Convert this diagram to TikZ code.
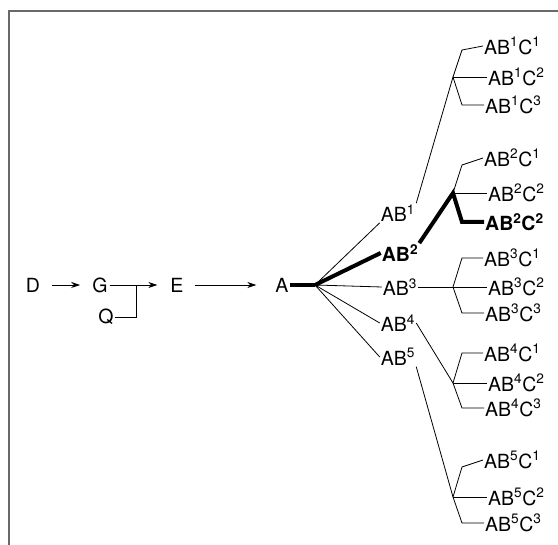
\documentclass[tikz,border=0pt]{standalone}
\usepackage{fontspec}
\setmainfont{TeX Gyre Heros}
\usetikzlibrary{arrows.meta,calc}
\definecolor{marco}{RGB}{105,105,105}
\newcommand{\letra}{\fontsize{19.5}{22}\selectfont}

\begin{document}
\begin{tikzpicture}[x=1pt, y=-1pt,
  etiqueta/.style={font=\letra, inner sep=1pt},
  negrita/.style={font=\letra\bfseries, inner sep=1pt},
  hoja/.style={anchor=west},
  rama/.style={draw=black, line width=0.8pt},
  gruesa/.style={draw=black, line width=4pt},
  flecha/.style={-{Stealth[length=9pt,width=6pt]}, draw=black, line width=0.8pt}
]
\useasboundingbox (0,0) rectangle (558,545);
% Marco
\draw[marco, line width=1.2pt] (9,545) -- (9,11) -- (558,11);
% Cadena
\node[etiqueta] (d) at (33,285) {D};
\node[etiqueta] (g) at (100,285) {G};
\node[etiqueta] (q) at (106,317) {Q};
\node[etiqueta] (e) at (177,285) {E};
\node[etiqueta] (a) at (282,285) {A};
\coordinate (gq) at (136,285);
\coordinate (ja) at (315,285);
\draw[flecha, shorten <=11pt, shorten >=11pt] (d) -- (g);
\draw[flecha, shorten <=1pt, shorten >=12pt] (g) -- (e);
\draw[flecha, shorten <=10pt, shorten >=18pt] (e) -- (a);
\draw[rama] (q.east) -| (gq);
\draw[gruesa] (a.east) -- (ja);
% Segundo nivel
\node[etiqueta] (ab1) at (398,213) {AB\textsuperscript{1}};
\node[negrita] (ab2) at (400,253) {AB\textsuperscript{2}};
\node[etiqueta] (ab3) at (400,287) {AB\textsuperscript{3}};
\node[etiqueta] (ab4) at (398,323) {AB\textsuperscript{4}};
\node[etiqueta] (ab5) at (398,357) {AB\textsuperscript{5}};
\draw[rama] (ja) -- (ab1.south west);
\draw[gruesa] (ja) -- (ab2.west);
\draw[rama] (ja) -- (ab3.west);
\draw[rama] (ja) -- (ab4.west);
\draw[rama] (ja) -- (ab5.west);
% Nudos
\coordinate (j1) at (453,77);
\coordinate (j2) at (453,193);
\coordinate (j3) at (453,287);
\coordinate (j4) at (453,383);
\coordinate (j5) at (453,497);
\draw[rama] (ab1.north east) -- (j1);
\draw[rama] (ab3.east) -- (j3);
\draw[rama] (ab4.east) -- (j4);
\draw[rama] (ab5.south east) -- (j5);
% Tercer nivel
\foreach \n/\ya/\yb/\yc/\dy in {1/46/77/105/4, 3/258/287/313/0,
  4/353/383/408/0, 5/460/497/523/7} {
  \node[etiqueta, hoja] (ab\n c1) at (483,\ya) {AB\textsuperscript{\n}C\textsuperscript{1}};
  \node[etiqueta, hoja] (ab\n c2) at (487,\yb) {AB\textsuperscript{\n}C\textsuperscript{2}};
  \node[etiqueta, hoja] (ab\n c3) at (484,\yc) {AB\textsuperscript{\n}C\textsuperscript{3}};
  \draw[rama] (j\n) -- (462,\ya+\dy) -- (ab\n c1.west);
  \draw[rama] (j\n) -- (ab\n c2.west);
  \draw[rama] (j\n) -- (462,\yc) -- (ab\n c3.west);
}
\node[etiqueta, hoja] (ab2c1) at (483,158) {AB\textsuperscript{2}C\textsuperscript{1}};
\node[etiqueta, hoja] (ab2c2) at (487,193) {AB\textsuperscript{2}C\textsuperscript{2}};
\node[negrita, hoja] (ab2c2b) at (484,222) {AB\textsuperscript{2}C\textsuperscript{2}};
\draw[rama] (j2) -- (462,165) -- (ab2c1.west);
\draw[rama] (j2) -- (ab2c2.west);
\draw[gruesa] (ab2.north east) -- (j2) -- (462,222) -- (ab2c2b.west);
\end{tikzpicture}
\end{document}
